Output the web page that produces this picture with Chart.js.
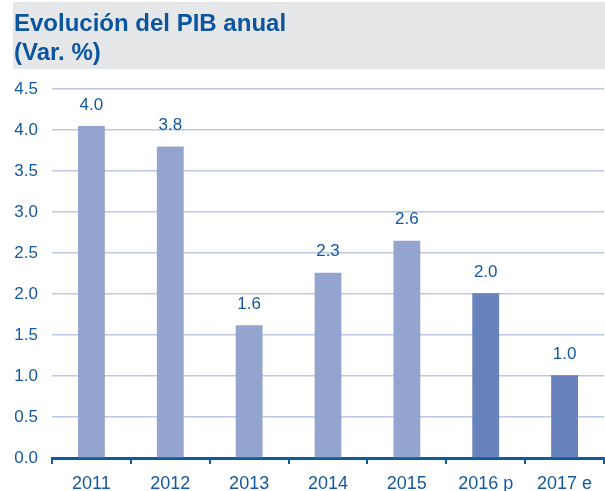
<!DOCTYPE html>
<html>
<head>
<meta charset="utf-8">
<script src="https://cdn.jsdelivr.net/npm/chart.js@4/dist/chart.umd.min.js"></script>
<style>
  body { margin: 0; background: #fff; }
  canvas { display: block; }
</style>
</head>
<body>
<canvas id="pibChart" width="605" height="491"></canvas>
<script>
const years      = ['2011', '2012', '2013', '2014', '2015', '2016 p', '2017 e'];
const pibValues  = [4.05, 3.80, 1.62, 2.26, 2.65, 2.01, 1.01];
const pibLabels  = ['4.0', '3.8', '1.6', '2.3', '2.6', '2.0', '1.0'];
const titleLines = ['Evolución del PIB anual', '(Var. %)'];

const FONT       = "'Liberation Sans', Arial, sans-serif";
const TEXT_BLUE  = '#1459a0';
const AXIS_BLUE  = '#0f5aa3';
const LIGHT_BAR  = '#93a4cf';
const DARK_BAR   = '#6882bb';

// bandeau gris derriere le titre
const titleBand = {
    id: 'titleBand',
    beforeDraw(chart){
        const ctx = chart.ctx;
        ctx.save();
        ctx.fillStyle = '#e6e7e9';
        ctx.fillRect(13, 2, chart.width - 13, 67);
        ctx.restore();
    }
};

// valeurs au-dessus des barres
const barValues = {
    id: 'barValues',
    afterDatasetsDraw(chart){
        const ctx  = chart.ctx;
        const meta = chart.getDatasetMeta(0);
        ctx.save();
        ctx.fillStyle    = TEXT_BLUE;
        ctx.font         = '17px ' + FONT;
        ctx.textAlign    = 'center';
        ctx.textBaseline = 'middle';
        meta.data.forEach((bar, i) => {
            ctx.fillText(pibLabels[i], bar.x, bar.y - 21);
        });
        ctx.restore();
    }
};

const pibChart = new Chart(document.getElementById('pibChart'), {
    type: 'bar',
    data: {
        labels: years,
        datasets: [{
            data: pibValues,
            backgroundColor: years.map(y => /[pe]$/.test(y) ? DARK_BAR : LIGHT_BAR),
            categoryPercentage: 1,
            barPercentage: 0.34
        }]
    },
    options: {
        responsive: false,
        animation: false,
        devicePixelRatio: 1,
        layout: { padding: { left: 14, right: 1, top: 0, bottom: -13 } },
        plugins: {
            legend: { display: false },
            tooltip: { enabled: false },
            title: {
                display: true,
                text: titleLines,
                align: 'start',
                color: '#0b559e',
                font: { family: FONT, size: 24, weight: 'bold', lineHeight: 29 / 24 },
                padding: { top: 10, bottom: 21 }
            }
        },
        scales: {
            x: {
                grid: {
                    display: true,
                    drawOnChartArea: false,
                    drawTicks: true,
                    tickLength: 6,
                    color: AXIS_BLUE,
                    lineWidth: 2
                },
                border: { display: true, color: AXIS_BLUE, width: 3 },
                ticks: {
                    color: TEXT_BLUE,
                    padding: 11,
                    font: { family: FONT, size: 18, lineHeight: 1 },
                    maxRotation: 0
                }
            },
            y: {
                min: 0,
                max: 4.5,
                afterFit(scale){ scale.width = 38; },
                grid: {
                    color: '#bfc7e3',
                    lineWidth: 1.5,
                    drawTicks: false
                },
                border: { display: false },
                ticks: {
                    stepSize: 0.5,
                    color: TEXT_BLUE,
                    padding: 14,
                    font: { family: FONT, size: 17 },
                    callback: v => v.toFixed(1)
                }
            }
        }
    },
    plugins: [titleBand, barValues]
});
</script>
</body>
</html>
